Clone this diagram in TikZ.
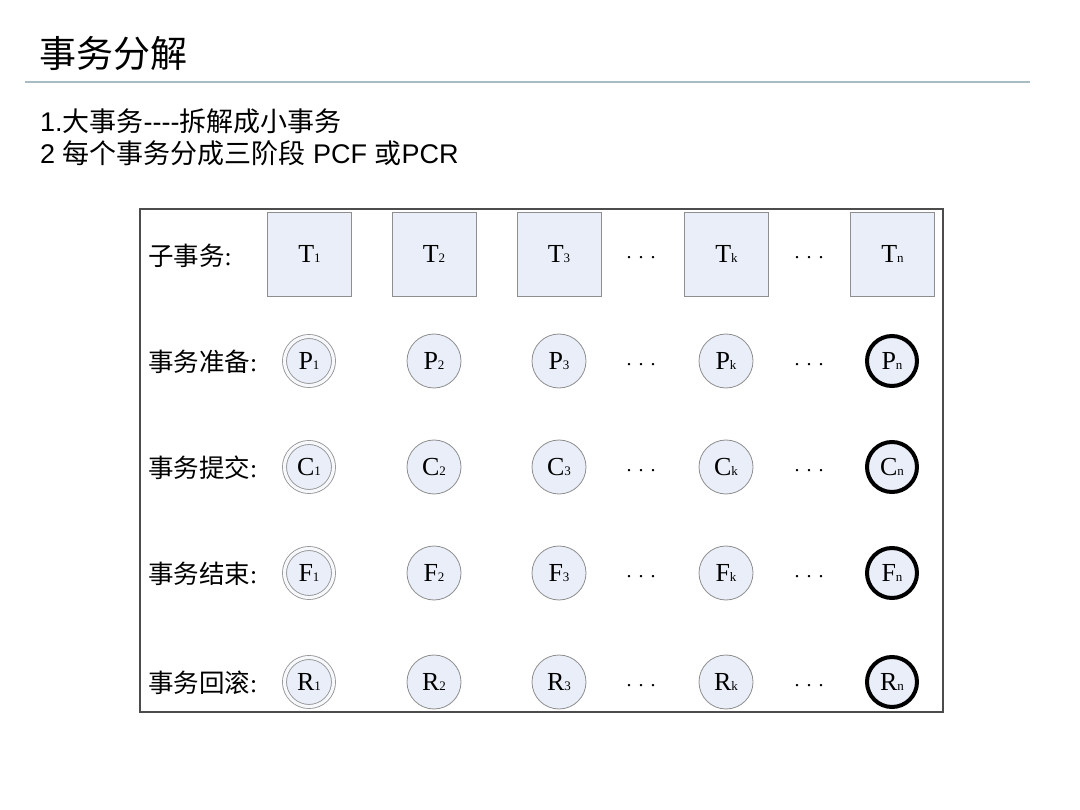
\documentclass[tikz,border=0pt]{standalone}
\usepackage{fontspec}
\setmainfont{Liberation Sans}
\newfontfamily\cjk{Noto Sans CJK SC}
\newfontfamily\tms{Liberation Serif}
\definecolor{boxfill}{HTML}{E9EEF8}
\definecolor{rulecol}{HTML}{A9BCC4}
\definecolor{edgecol}{HTML}{8E8E8E}
\newcommand\mysb[2]{#1{\fontsize{13}{13}\selectfont #2}}
\begin{document}
\begin{tikzpicture}[x=1pt,y=-1pt,
  sq/.style={draw=edgecol, line width=0.8pt, fill=boxfill, minimum size=84pt, inner sep=0pt, font=\tms\fontsize{26}{26}\selectfont},
  circ/.style={circle, draw=edgecol, line width=0.8pt, fill=boxfill, minimum size=54pt, inner sep=0pt, font=\tms\fontsize{26}{26}\selectfont},
  firstc/.style={circ, minimum size=49pt, double=white!60!boxfill, double distance=3.2pt, line width=0.8pt},
  lastc/.style={circ, draw=black, line width=4pt, minimum size=50pt},
  rowlbl/.style={anchor=west, inner sep=0pt, font=\cjk\fontsize{25.5}{25.5}\selectfont},
  dotsn/.style={inner sep=0pt, font=\tms\fontsize{20}{20}\selectfont},
  hdr/.style={anchor=west, inner sep=0pt, font=\fontsize{27}{27}\selectfont}
]
\useasboundingbox (0,0) rectangle (1080,810);
\fill[white] (0,0) rectangle (1080,810);
% title
\node[anchor=west, inner sep=0pt, font=\cjk\fontsize{37}{37}\selectfont] (title) at (39,53) {事务分解};
\draw[rulecol, line width=1.3pt] (25,82) coordinate (r1) -- (1030,82) coordinate (r2);
\node[hdr] (h1) at (40,121) {1.{\cjk 大事务}-{}-{}-{}-{\cjk 拆解成小事务}};
\node[hdr] (h2) at (40,153) {2 {\cjk 每个事务分成三阶段} PCF {\cjk 或}PCR};
% frame
\draw[draw=black!70, line width=1.3pt] (140,209) rectangle (943,712);
% row labels
\node[rowlbl] (l0) at (148,256) {子事务{\tms :}};
\node[rowlbl] (l1) at (148,362) {事务准备{\tms :}};
\node[rowlbl] (l2) at (148,468) {事务提交{\tms :}};
\node[rowlbl] (l3) at (148,574) {事务结束{\tms :}};
\node[rowlbl] (l4) at (148,683) {事务回滚{\tms :}};
% squares
\node[sq] (T1) at (309.5,254) {\mysb{T}{1}};
\node[sq] (T2) at (434,254) {\mysb{T}{2}};
\node[sq] (T3) at (559,254) {\mysb{T}{3}};
\node[sq] (Tk) at (726.5,254) {\mysb{T}{k}};
\node[sq] (Tn) at (892.5,254) {\mysb{T}{n}};
\node[dotsn] (d0a) at (641,258) {.\hspace{7pt}.\hspace{7pt}.};
\node[dotsn] (d0b) at (809,258) {.\hspace{7pt}.\hspace{7pt}.};
% circle rows
\foreach \L/\y [count=\i] in {P/361,C/467,F/573,R/682}{
  \node[firstc] (\L1) at (309,\y) {\mysb{\L}{1}};
  \node[circ] (\L2) at (434,\y) {\mysb{\L}{2}};
  \node[circ] (\L3) at (559,\y) {\mysb{\L}{3}};
  \node[circ] (\L k) at (726,\y) {\mysb{\L}{k}};
  \node[lastc] (\L n) at (892,\y) {\mysb{\L}{n}};
  \node[dotsn] (d\i a) at (641,\y+4) {.\hspace{7pt}.\hspace{7pt}.};
  \node[dotsn] (d\i b) at (809,\y+4) {.\hspace{7pt}.\hspace{7pt}.};
}
\end{tikzpicture}
\end{document}
